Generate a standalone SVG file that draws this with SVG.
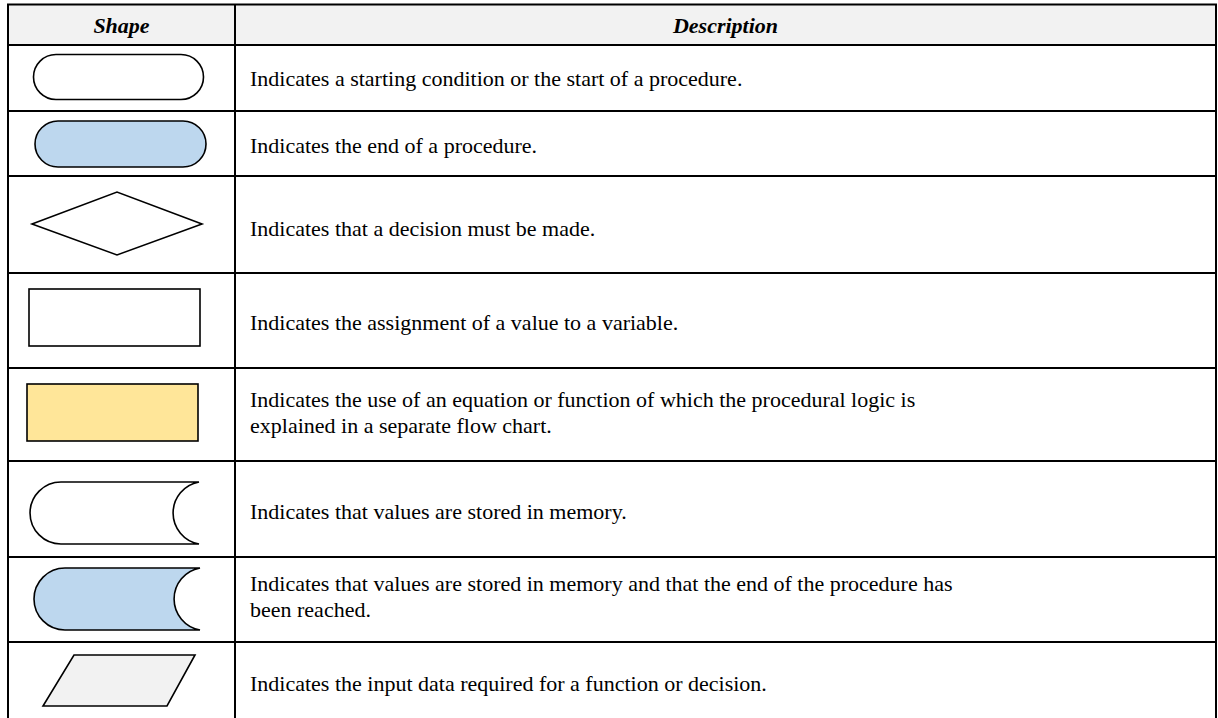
<svg xmlns="http://www.w3.org/2000/svg" width="1218" height="718" viewBox="0 0 1218 718">
  <style>
    .grid { stroke: #000; stroke-width: 2; fill: none; }
    .shape { stroke: #000; stroke-width: 1.6; stroke-linejoin: miter; }
    .txt { font-family: "Liberation Serif", "Times New Roman", serif; font-size: 22px; fill: #000; }
    .hdr { font-family: "Liberation Serif", "Times New Roman", serif; font-size: 22px; font-weight: bold; font-style: italic; fill: #000; text-anchor: middle; }
    .white { fill: #fff; }
    .blue { fill: #BDD7EE; }
    .yellow { fill: #FFE699; }
    .grey { fill: #F2F2F2; }
  </style>
  <rect x="0" y="0" width="1218" height="718" fill="#fff"/>

  <!-- header band -->
  <g id="header">
    <rect x="8" y="4.5" width="1208" height="40.5" fill="#F2F2F2"/>
    <text class="hdr" x="121.5" y="33">Shape</text>
    <text class="hdr" x="725.5" y="33">Description</text>
  </g>

  <!-- table rules -->
  <g id="grid" class="grid">
    <line x1="7" y1="4.5" x2="1217" y2="4.5"/>
    <line x1="8" y1="4.5" x2="8" y2="718"/>
    <line x1="235" y1="4.5" x2="235" y2="718"/>
    <line x1="1216" y1="4.5" x2="1216" y2="718"/>
    <line x1="7" y1="45" x2="1217" y2="45"/>
    <line x1="7" y1="111" x2="1217" y2="111"/>
    <line x1="7" y1="176" x2="1217" y2="176"/>
    <line x1="7" y1="273" x2="1217" y2="273"/>
    <line x1="7" y1="368" x2="1217" y2="368"/>
    <line x1="7" y1="461" x2="1217" y2="461"/>
    <line x1="7" y1="557" x2="1217" y2="557"/>
    <line x1="7" y1="642" x2="1217" y2="642"/>
  </g>

  <!-- terminator: start -->
  <g id="row-start">
    <rect class="shape white" x="33.5" y="54.5" width="170" height="45" rx="22.5" ry="22.5"/>
    <text class="txt" x="250" y="86">Indicates a starting condition or the start of a procedure.</text>
  </g>

  <!-- terminator: end -->
  <g id="row-end">
    <rect class="shape blue" x="35" y="121" width="171" height="46" rx="23" ry="23"/>
    <text class="txt" x="250" y="153">Indicates the end of a procedure.</text>
  </g>

  <!-- decision -->
  <g id="row-decision">
    <polygon class="shape white" points="32,224 117,192 202,224 117,255"/>
    <text class="txt" x="250" y="236">Indicates that a decision must be made.</text>
  </g>

  <!-- assignment -->
  <g id="row-assignment">
    <rect class="shape white" x="29" y="289" width="171" height="57"/>
    <text class="txt" x="250" y="330">Indicates the assignment of a value to a variable.</text>
  </g>

  <!-- predefined function -->
  <g id="row-function">
    <rect class="shape yellow" x="27" y="384" width="171" height="57"/>
    <text class="txt" x="250" y="407">Indicates the use of an equation or function of which the procedural logic is</text>
    <text class="txt" x="250" y="433">explained in a separate flow chart.</text>
  </g>

  <!-- stored data -->
  <g id="row-stored">
    <path class="shape white" d="M199,482 H61 A31,31 0 0 0 61,544 H199 A31.5,31.5 0 0 1 199,482 Z"/>
    <text class="txt" x="250" y="519">Indicates that values are stored in memory.</text>
  </g>

  <!-- stored data + end -->
  <g id="row-stored-end">
    <path class="shape blue" d="M200,568 H65 A31,31 0 0 0 65,630 H200 A31.5,31.5 0 0 1 200,568 Z"/>
    <text class="txt" x="250" y="591">Indicates that values are stored in memory and that the end of the procedure has</text>
    <text class="txt" x="250" y="617">been reached.</text>
  </g>

  <!-- input data -->
  <g id="row-input">
    <polygon class="shape grey" points="74,655 195,655 167,706 43,706"/>
    <text class="txt" x="250" y="691">Indicates the input data required for a function or decision.</text>
  </g>
</svg>
